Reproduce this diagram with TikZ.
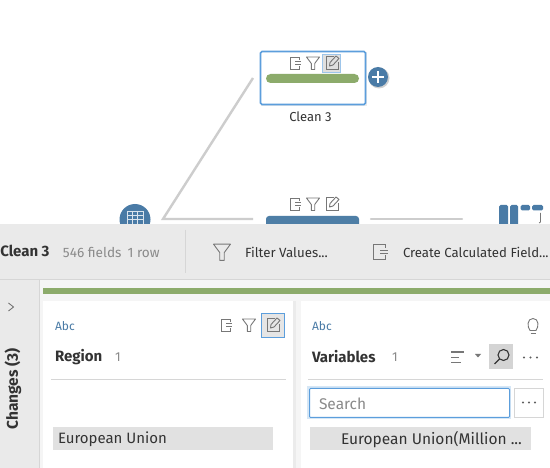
\documentclass[tikz,border=0pt]{standalone}
\usepackage{fontspec}
\setmainfont{Fira Sans}
\definecolor{flowblue}{HTML}{4A7BA6}
\definecolor{nodegreen}{HTML}{8CAB6B}
\definecolor{selblue}{HTML}{5C9EDC}
\definecolor{panelgray}{HTML}{EAEAEA}
\definecolor{rulegray}{HTML}{D6D6D6}
\definecolor{linkgray}{HTML}{CDCDCD}
\definecolor{icongray}{HTML}{777777}
\definecolor{barblue}{HTML}{4E7EA6}
\definecolor{txtdark}{HTML}{333333}
\definecolor{txtgray}{HTML}{8A8A8A}
\definecolor{valuebar}{HTML}{E1E1E1}
\newcommand{\fs}[1]{\fontsize{#1}{#1}\selectfont}
\tikzset{
  x=1pt,y=-1pt,
  flowlink/.style={draw=linkgray,line width=2.4pt},
  lbl/.style={inner sep=0pt,outer sep=0pt,text=txtdark,anchor=west,font=\fs{13}},
  boldlbl/.style={lbl,font=\fs{14.5}\bfseries},
  graylbl/.style={lbl,text=txtgray,font=\fs{13}},
  abclbl/.style={lbl,text=flowblue,font=\fs{12}},
  fileicon/.pic={
    \draw[icongray,line width=0.9pt] (4,-3)--(4,-6)--(-5,-6)--(-5,6)--(4,6)--(4,3);
    \draw[icongray,line width=0.9pt] (0,-1.2)--(6,-1.2) (0,1.4)--(6,1.4);
  },
  filtericon/.pic={
    \draw[icongray,line width=0.9pt,line join=round] (-6.5,-6)--(6.5,-6)--(1.7,0.5)--(1.7,6.5)--(-1.7,6.5)--(-1.7,0.5)--cycle;
  },
  editicon/.pic={
    \draw[icongray,line width=0.9pt] (2,-6.5)--(-6,-6.5)--(-6,6.5)--(6,6.5)--(6,-0.5);
    \draw[icongray,line width=0.9pt,line join=round] (-2.5,3)--(-2,-0.5)--(4,-7)--(7,-4.5)--(1,2)--cycle;
  },
}
\begin{document}
\begin{tikzpicture}
\useasboundingbox (0,0) rectangle (550,468);
\clip (0,0) rectangle (550,468);
\fill[white] (0,0) rectangle (550,468);

% flow nodes
\coordinate (junction) at (163,219);
\coordinate (linkendtop) at (253,78);
\coordinate (linkendmid) at (253,219);
\coordinate (linkstartout) at (371,219);
\coordinate (linkendout) at (462,219);
\draw[flowlink] (linkendtop)--(junction)--(linkendmid);
\draw[flowlink,line cap=round] (linkstartout)--(linkendout);

\node[circle,fill=flowblue,minimum size=31pt,inner sep=0pt] (tablenode) at (135,219.5) {};
\draw[white!80!flowblue,line width=0.9pt] (127,211) rectangle (143,226)
  (132.3,211)--(132.3,226) (137.7,211)--(137.7,226) (127,215)--(143,215) (127,219.5)--(143,219.5);

% Clean 3 node
\fill[black!8] (261,52) rectangle (367,106.5);
\node[draw=selblue,line width=1.6pt,fill=white,rounded corners=1.5pt,minimum width=105pt,minimum height=53pt,inner sep=0pt] (cleannode) at (313,78) {};
\node[fill=nodegreen,rounded corners=4.5pt,minimum width=93pt,minimum height=9pt,inner sep=0pt] (greenbar) at (312.5,78.5) {};
\node[fill=black!12,draw=selblue!60,line width=0.8pt,minimum width=18pt,minimum height=18pt,inner sep=0pt] (editbox) at (331.5,63.5) {};
\pic at (295,63) {fileicon};
\pic at (313,63) {filtericon};
\pic at (332,63) {editicon};
\fill[black!18] (379,78) circle (10.5);
\node[circle,fill=flowblue,minimum size=20pt,inner sep=0pt] (plusnode) at (378,77) {};
\draw[white,line width=1.5pt] (372,77)--(384,77) (378,71)--(378,83);
\node[font=\fs{13},text=txtdark,inner sep=0pt] (cleanlabel) at (310.5,117) {Clean 3};

% second node
\pic at (295,204) {fileicon};
\pic at (313,204) {filtericon};
\pic at (332,204) {editicon};
\fill[barblue,rounded corners=3pt] (266,216) rectangle (359,232);

% output icon
\fill[flowblue,rounded corners=1.5pt] (499,205) rectangle (508,230);
\fill[flowblue,rounded corners=1.5pt] (510,205) rectangle (518,230);
\fill[flowblue,rounded corners=1.5pt] (520.5,205) rectangle (530,210.5);
\fill[flowblue,rounded corners=1.5pt] (532,205) rectangle (543,210.5);
\draw[icongray,line width=0.8pt] (540.5,213)--(540.5,222)--(539,223);

% top panel
\fill[panelgray] (0,224) rectangle (550,279);
\draw[rulegray,line width=1pt] (0,279.5)--(550,279.5);
\draw[rulegray,line width=1pt] (185.5,230)--(185.5,273);
\node[boldlbl,font=\fs{15}\bfseries] (steptitle) at (0.3,250.5) {Clean 3};
\node[graylbl,font=\fs{13.6}] (stepfields) at (63,252) {546 fields\hspace{6pt}1 row};
\pic[scale=1.3] at (222,252) {filtericon};
\node[lbl,font=\fs{13.3}] (filterbtn) at (245,252) {Filter Values...};
\pic[scale=1.25] at (380,251.5) {fileicon};
\node[lbl,font=\fs{13.2}] (calcbtn) at (403,252) {Create Calculated Field...};

% lower area
\fill[panelgray] (0,280) rectangle (39,468);
\fill[black!4] (39,280) rectangle (550,468);
\draw[rulegray,line width=1pt] (39,280)--(39,468);
\node[fill=nodegreen,minimum width=507pt,minimum height=6pt,inner sep=0pt,anchor=north west] (profilebar) at (43,288) {};
\fill[black!8] (293,301) rectangle (296,468);
\fill[white] (43,301) rectangle (293,468);
\fill[white] (301,301) rectangle (550,468);

\draw[icongray,line width=0.9pt] (8.5,303)--(13.5,307)--(8.5,311);
\node[font=\fs{15.5}\bfseries,text=txtdark,rotate=90,inner sep=0pt] (changes) at (13,389) {Changes (3)};

% Region card
\node[abclbl] (regionabc) at (55,326) {Abc};
\node[boldlbl,font=\fs{15}\bfseries] (regiontitle) at (55,357) {Region};
\node[graylbl] (regioncount) at (115,357) {1};
\draw[rulegray,line width=1pt] (51,379.5)--(286,379.5);
\pic at (226,325) {fileicon};
\pic at (249,325) {filtericon};
\node[fill=black!10,draw=selblue,line width=0.9pt,minimum width=23pt,minimum height=24pt,inner sep=0pt] (regionedit) at (273,325) {};
\pic at (273,325) {editicon};
\node[fill=valuebar,minimum width=220pt,minimum height=23pt,inner sep=0pt,anchor=north west] (regionbar) at (53,427) {};
\node[lbl,font=\fs{15}] (regionvalue) at (58,439.5) {European Union};

% Variables card
\node[abclbl] (varabc) at (312,326) {Abc};
\node[boldlbl,font=\fs{15}\bfseries] (vartitle) at (312,357) {Variables};
\node[graylbl] (varcount) at (392,357) {1};
\draw[icongray,line width=0.9pt] (530,330.5) .. controls (527,327) and (527,318.5) .. (533,318.5) .. controls (539,318.5) and (539,327) .. (536,330.5) -- cycle;
\draw[icongray,line width=0.9pt] (530.5,333)--(535.5,333);
% sort icon
\draw[icongray,line width=1.5pt] (451,352)--(464,352) (451,357.5)--(459,357.5) (451,362.5)--(461,362.5);
\fill[icongray] (475,354)--(481,354)--(478,357.5)--cycle;
\node[fill=black!17,minimum width=24pt,minimum height=25pt,inner sep=0pt] (searchtoggle) at (501,356.5) {};
\draw[txtdark,line width=1.1pt] (503.5,355) circle (5.5);
\draw[txtdark,line width=1.3pt] (499.5,359)--(494.5,364);
\foreach \dx in {524,530.5,537}{\fill[icongray!80!black] (\dx,357.5) circle (1.2);}
\draw[rulegray,line width=1pt] (308,379.5)--(543,379.5);
\fill[selblue!25] (307,386) rectangle (511,419);
\node[draw=selblue,line width=1pt,fill=white,rounded corners=1pt,minimum width=200pt,minimum height=29pt,inner sep=0pt,anchor=north west] (searchbox) at (309,388) {};
\node[lbl,text=txtgray,font=\fs{15.5}] (searchtext) at (319,403.5) {Search};
\node[draw=rulegray,line width=1pt,fill=white,minimum width=29pt,minimum height=29pt,inner sep=0pt,anchor=north west] (morebox) at (514,388) {};
\foreach \dx in {523,529,535}{\fill[icongray!80!black] (\dx,402.5) circle (1.2);}
\node[fill=valuebar,minimum width=221pt,minimum height=23pt,inner sep=0pt,anchor=north west] (varbar) at (310,427) {};
\node[lbl,font=\fs{15.5}] (varvalue) at (341,439.5) {European Union(Million ...};
\end{tikzpicture}
\end{document}
